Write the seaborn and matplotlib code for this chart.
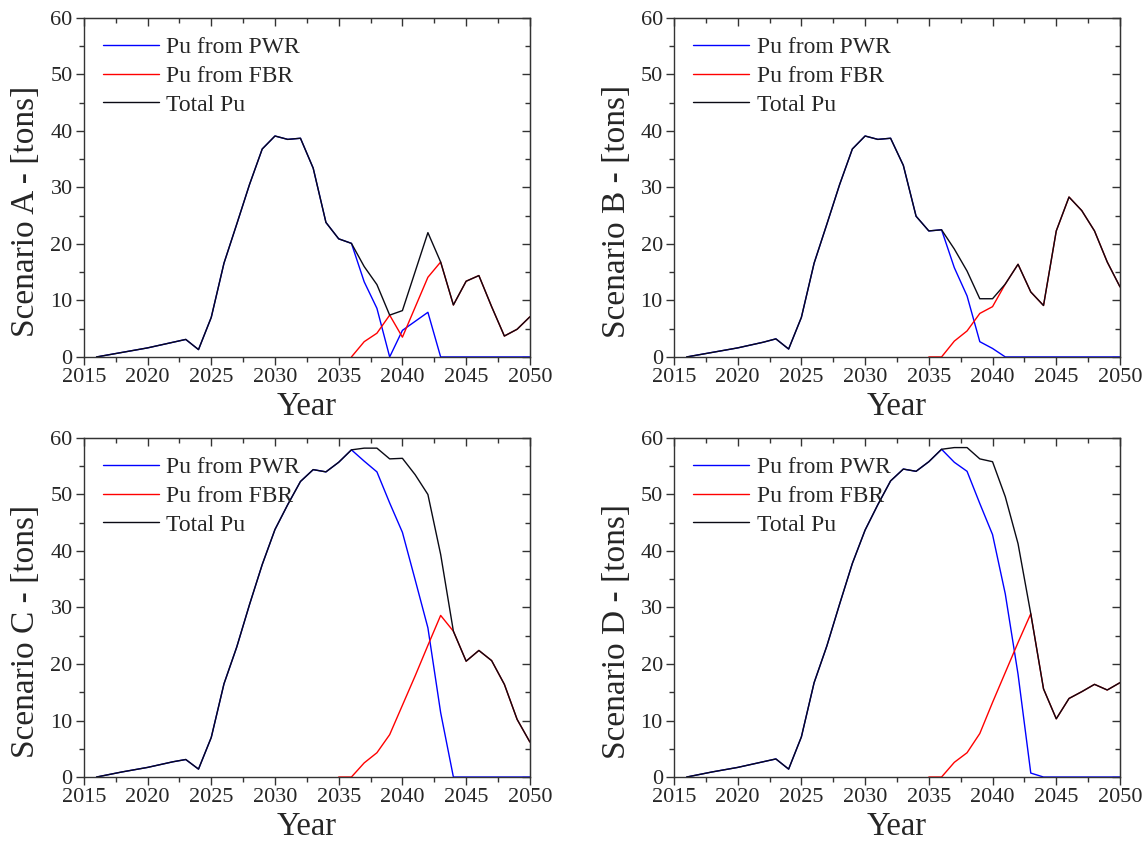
import numpy as np
import pandas as pd
import seaborn as sns
import matplotlib.pyplot as plt
from matplotlib.ticker import MultipleLocator

# Data (tons of Pu per year)
years = list(range(2016, 2051))

total_a = [0.0, 0.4, 0.8, 1.2, 1.6, 2.1, 2.6, 3.1, 1.3, 7.0,
           16.6, 23.5, 30.5, 36.8, 39.1, 38.5, 38.7, 33.4, 23.8, 20.9,
           20.1, 16.0, 12.8, 7.4, 8.2, 15.1, 22.0, 16.8, 9.2, 13.4,
           14.4, 8.9, 3.7, 4.9, 7.1]
pwr_a = [0.0, 0.4, 0.8, 1.2, 1.6, 2.1, 2.6, 3.1, 1.3, 7.0,
         16.6, 23.5, 30.5, 36.8, 39.1, 38.5, 38.7, 33.4, 23.8, 20.9,
         20.1, 13.3, 8.6, 0.0, 4.7, 6.3, 7.9, 0.0, 0.0, 0.0,
         0.0, 0.0, 0.0, 0.0, 0.0]
fbr_a_years = list(range(2036, 2051))
fbr_a = [0.0, 2.7, 4.2, 7.4, 3.5, 8.8, 14.1, 16.8, 9.2, 13.4,
         14.4, 8.9, 3.7, 4.9, 7.1]

total_b = [0.0, 0.4, 0.8, 1.2, 1.6, 2.1, 2.6, 3.2, 1.4, 7.0,
           16.6, 23.5, 30.5, 36.8, 39.1, 38.5, 38.7, 33.9, 24.9, 22.3,
           22.5, 19.1, 15.2, 10.3, 10.3, 12.9, 16.4, 11.5, 9.1, 22.3,
           28.3, 25.9, 22.3, 16.8, 12.4]
pwr_b = [0.0, 0.4, 0.8, 1.2, 1.6, 2.1, 2.6, 3.2, 1.4, 7.0,
         16.6, 23.5, 30.5, 36.8, 39.1, 38.5, 38.7, 33.9, 24.9, 22.3,
         22.5, 15.8, 10.8, 2.7, 1.5, 0.0, 0.0, 0.0, 0.0, 0.0,
         0.0, 0.0, 0.0, 0.0, 0.0]
fbr_b_years = list(range(2035, 2051))
fbr_b = [0.0, 0.0, 2.8, 4.6, 7.7, 8.9, 12.9, 16.4, 11.5, 9.1,
         22.3, 28.3, 25.9, 22.3, 16.8, 12.4]

total_c = [0.0, 0.45, 0.9, 1.3, 1.7, 2.2, 2.7, 3.1, 1.4, 7.0,
           16.5, 23.0, 30.5, 37.6, 43.8, 48.2, 52.3, 54.4, 54.0, 55.7,
           57.9, 58.2, 58.2, 56.3, 56.4, 53.5, 50.0, 39.4, 25.8, 20.5,
           22.4, 20.6, 16.4, 10.2, 6.2]
pwr_c = [0.0, 0.45, 0.9, 1.3, 1.7, 2.2, 2.7, 3.1, 1.4, 7.0,
         16.5, 23.0, 30.5, 37.6, 43.8, 48.2, 52.3, 54.4, 54.0, 55.7,
         57.9, 55.9, 54.0, 48.5, 43.3, 34.9, 26.4, 11.4, 0.0, 0.0,
         0.0, 0.0, 0.0, 0.0, 0.0]
fbr_c_years = list(range(2035, 2051))
fbr_c = [0.0, 0.0, 2.5, 4.3, 7.5, 12.7, 17.9, 23.3, 28.6, 25.8,
         20.5, 22.4, 20.6, 16.4, 10.2, 6.2]

total_d = [0.0, 0.45, 0.9, 1.3, 1.7, 2.2, 2.7, 3.2, 1.4, 7.1,
           16.7, 23.2, 30.6, 37.8, 43.7, 48.2, 52.4, 54.5, 54.1, 55.8,
           58.0, 58.3, 58.3, 56.3, 55.8, 49.6, 41.3, 28.9, 15.6, 10.3,
           13.9, 15.1, 16.4, 15.4, 16.7]
pwr_d = [0.0, 0.45, 0.9, 1.3, 1.7, 2.2, 2.7, 3.2, 1.4, 7.1,
         16.7, 23.2, 30.6, 37.8, 43.7, 48.2, 52.4, 54.5, 54.1, 55.8,
         58.0, 55.7, 54.1, 48.4, 42.9, 32.4, 18.2, 0.7, 0.0, 0.0,
         0.0, 0.0, 0.0, 0.0, 0.0]
fbr_d_years = list(range(2035, 2051))
fbr_d = [0.0, 0.0, 2.6, 4.3, 7.7, 13.2, 18.5, 23.8, 28.9, 15.6,
         10.3, 13.9, 15.1, 16.4, 15.4, 16.7]

scenarios = ["A", "B", "C", "D"]
series_labels = ["Pu from PWR", "Pu from FBR", "Total Pu"]
palette = {"Pu from PWR": "#0000ff", "Pu from FBR": "#ff0000", "Total Pu": "#0a0a14"}

scenario_data = {
    "A": (pwr_a, fbr_a_years, fbr_a, total_a),
    "B": (pwr_b, fbr_b_years, fbr_b, total_b),
    "C": (pwr_c, fbr_c_years, fbr_c, total_c),
    "D": (pwr_d, fbr_d_years, fbr_d, total_d),
}


def long_frame(pwr, fbr_years, fbr, total):
    parts = [
        pd.DataFrame({"year": years, "tons": pwr, "series": "Pu from PWR"}),
        pd.DataFrame({"year": fbr_years, "tons": fbr, "series": "Pu from FBR"}),
        pd.DataFrame({"year": years, "tons": total, "series": "Total Pu"}),
    ]
    return pd.concat(parts, ignore_index=True)


sns.set_style("ticks")
plt.rcParams["font.family"] = ["Liberation Serif", "DejaVu Serif"]

fig, axes = plt.subplots(2, 2, figsize=(11.48, 8.52), dpi=100)
fig.subplots_adjust(left=0.073, right=0.9756, bottom=0.088, top=0.979,
                    wspace=0.323, hspace=0.239)

axis_color = "#333333"

for ax, sc in zip(axes.flat, scenarios):
    df = long_frame(*scenario_data[sc])
    sns.lineplot(data=df, x="year", y="tons", hue="series",
                 hue_order=series_labels, palette=palette,
                 estimator=None, linewidth=1.0, ax=ax)

    ax.set_xlim(2015, 2050)
    ax.set_ylim(0, 60)
    ax.xaxis.set_major_locator(MultipleLocator(5))
    ax.xaxis.set_minor_locator(MultipleLocator(2.5))
    ax.yaxis.set_major_locator(MultipleLocator(10))
    ax.yaxis.set_minor_locator(MultipleLocator(5))
    ax.tick_params(which="both", direction="out", top=False, right=False,
                   color=axis_color, labelsize=16, width=1.0)
    ax.tick_params(which="major", length=6, pad=2)
    ax.tick_params(which="minor", length=3.5)

    for sp in ax.spines.values():
        sp.set_visible(True)
        sp.set_color(axis_color)
        sp.set_linewidth(1.0)

    # inward ticks on the mirrored top/right axes
    top = ax.secondary_xaxis("top")
    top.xaxis.set_major_locator(MultipleLocator(5))
    top.xaxis.set_minor_locator(MultipleLocator(2.5))
    top.tick_params(which="both", direction="in", labeltop=False,
                    color=axis_color, width=1.0)
    top.tick_params(which="major", length=6)
    top.tick_params(which="minor", length=3.5)
    top.spines["top"].set_color(axis_color)

    right = ax.secondary_yaxis("right")
    right.yaxis.set_major_locator(MultipleLocator(10))
    right.yaxis.set_minor_locator(MultipleLocator(5))
    right.tick_params(which="both", direction="in", labelright=False,
                      color=axis_color, width=1.0)
    right.tick_params(which="major", length=6)
    right.tick_params(which="minor", length=3.5)
    right.spines["right"].set_color(axis_color)

    ax.set_xlabel("Year", fontsize=23.5, labelpad=3)
    ax.set_ylabel(f"Scenario {sc} - [tons]", fontsize=24)
    ax.yaxis.set_label_coords(-0.095, 0.43)

    handles, labels = ax.get_legend_handles_labels()
    ax.legend(handles, labels, loc="upper left", frameon=False, fontsize=17,
              handlelength=2.4, handletextpad=0.3, labelspacing=0.3,
              borderaxespad=0.4)

fig.savefig("out.png", dpi=100)
